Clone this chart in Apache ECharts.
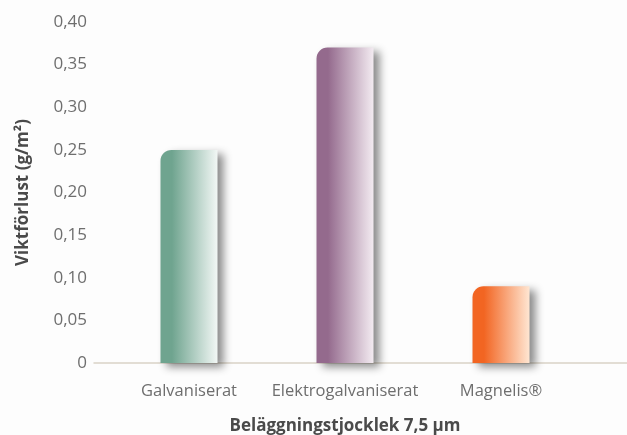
<!DOCTYPE html>
<html>
<head>
<meta charset="utf-8">
<script src="https://cdn.jsdelivr.net/npm/echarts@6/dist/echarts.min.js"></script>
<style>
  html, body { margin: 0; padding: 0; background: #fdfdfd; }
  #main { width: 627px; height: 435px; }
</style>
</head>
<body>
<div id="main"></div>
<script>
// data
var categories = ['Galvaniserat', 'Elektrogalvaniserat', 'Magnelis®'];
var values = [0.25, 0.37, 0.09];
var barColors = [
    ['#6fa48f', '#f2f7f5'],
    ['#946a8d', '#f3ebf1'],
    ['#f26522', '#ffe6d2']
];

var myChart = echarts.init(document.getElementById('main'));

var fontFamily = '"Open Sans", "Noto Sans", sans-serif';

var barData = values.map(function (v, i) {
    return {
        value: v,
        itemStyle: {
            color: new echarts.graphic.LinearGradient(0, 0, 1, 0, [
                { offset: 0, color: barColors[i][0] },
                { offset: 0.2, color: barColors[i][0] },
                { offset: 1, color: barColors[i][1] }
            ])
        }
    };
});

var option = {
    backgroundColor: '#fdfdfd',
    grid: [
        { left: 111, right: 48, top: 22, bottom: 72, outerBoundsMode: 'none', containLabel: false },
        { left: 94, right: 0, top: 22, bottom: 72, outerBoundsMode: 'none', containLabel: false }
    ],
    xAxis: [{
        type: 'category',
        gridIndex: 0,
        data: categories,
        axisLine: { show: false },
        axisTick: { show: false },
        axisLabel: {
            interval: 0,
            color: '#6e6e6e',
            fontSize: 16.5,
            fontFamily: fontFamily,
            margin: 20
        },
        name: 'Beläggningstjocklek 7,5 µm',
        nameLocation: 'middle',
        nameGap: 55,
        nameTextStyle: {
            color: '#4a4a4a',
            fontSize: 17,
            fontWeight: 'bold',
            fontFamily: fontFamily
        }
    }, {
        type: 'value',
        gridIndex: 1,
        min: 0,
        max: 1,
        axisLine: { show: true, lineStyle: { color: '#d9d2c6', width: 1.5 } },
        axisTick: { show: false },
        axisLabel: { show: false },
        splitLine: { show: false }
    }],
    yAxis: [{
        type: 'value',
        gridIndex: 0,
        min: 0,
        max: 0.4,
        interval: 0.05,
        axisLine: { show: false },
        axisTick: { show: false },
        splitLine: { show: false },
        axisLabel: {
            color: '#6e6e6e',
            fontSize: 17,
            fontFamily: fontFamily,
            margin: 24,
            formatter: function (value) {
                if (value === 0) return '0';
                return value.toFixed(2).replace('.', ',');
            }
        },
        name: 'Viktförlust (g/m²)',
        nameLocation: 'middle',
        nameRotate: 90,
        nameGap: 79,
        nameTextStyle: {
            color: '#4a4a4a',
            fontSize: 17,
            fontWeight: 'bold',
            fontFamily: fontFamily
        }
    }, {
        type: 'value',
        gridIndex: 1,
        show: false
    }],
    series: [{
        type: 'bar',
        xAxisIndex: 0,
        yAxisIndex: 0,
        barWidth: 57,
        data: barData,
        itemStyle: {
            borderRadius: [11, 0, 0, 0],
            shadowColor: 'rgba(0,0,0,0.45)',
            shadowBlur: 8,
            shadowOffsetX: 6,
            shadowOffsetY: 4
        },
        animation: false
    }]
};

myChart.setOption(option);
</script>
</body>
</html>
